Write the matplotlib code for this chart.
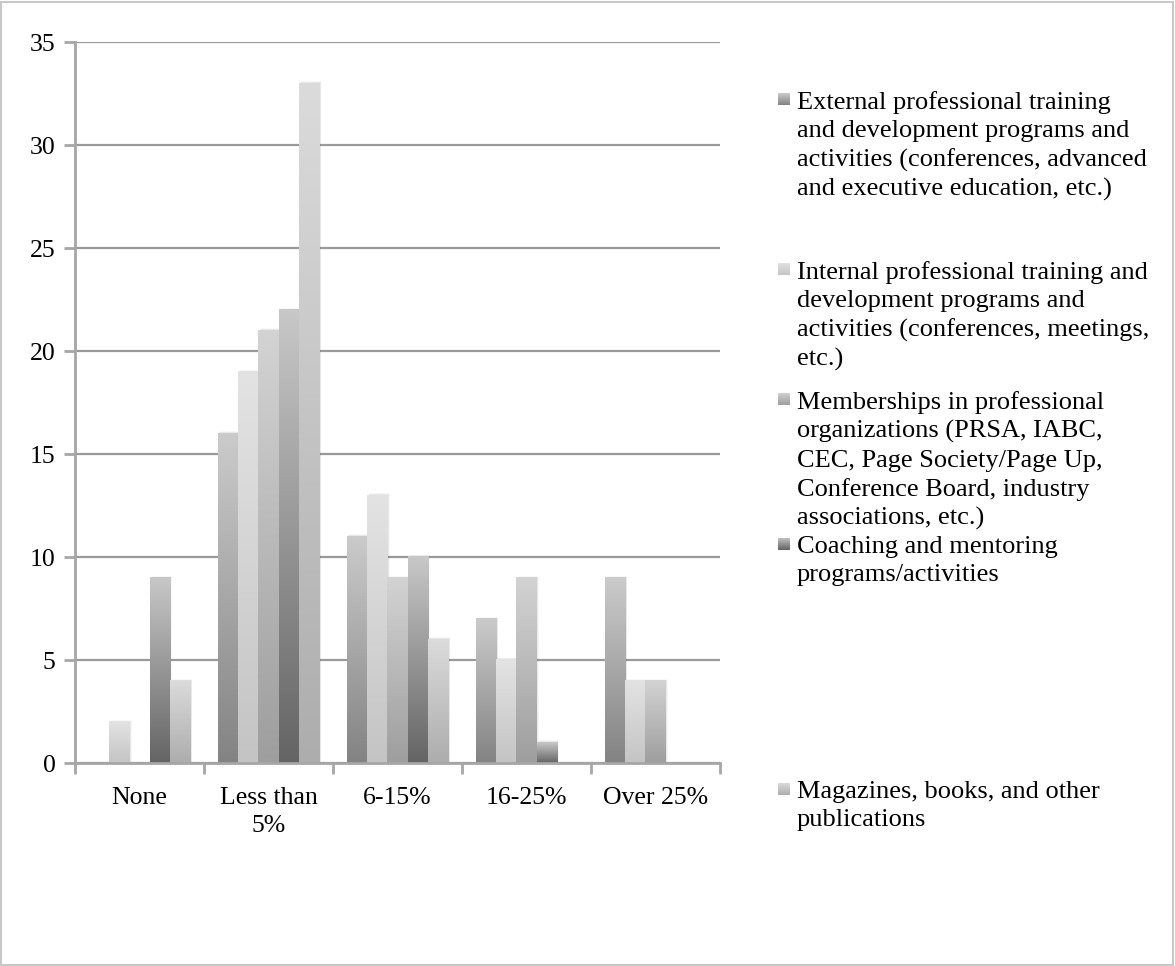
import numpy as np
import matplotlib.pyplot as plt
from matplotlib.patches import Rectangle
from matplotlib.colors import LinearSegmentedColormap

# Datos
categories = ['None', 'Less than\n5%', '6-15%', '16-25%', 'Over 25%']
series = [
    'External professional training\nand development programs and\nactivities (conferences, advanced\nand executive education, etc.)',
    'Internal professional training and\ndevelopment programs and\nactivities (conferences, meetings,\netc.)',
    'Memberships in professional\norganizations (PRSA, IABC,\nCEC, Page Society/Page Up,\nConference Board, industry\nassociations, etc.)',
    'Coaching and mentoring\nprograms/activities',
    'Magazines, books, and other\npublications',
]
external = [0, 16, 11, 7, 9]
internal = [2, 19, 13, 5, 4]
memberships = [0, 21, 9, 9, 4]
coaching = [9, 22, 10, 1, 0]
magazines = [4, 33, 6, 0, 0]
values = [external, internal, memberships, coaching, magazines]

# Degradado (arriba, abajo) por serie
grads = [
    ('#cbcbcb', '#838383'),
    ('#e3e3e3', '#c4c4c4'),
    ('#d3d3d3', '#9e9e9e'),
    ('#c8c8c8', '#646464'),
    ('#dbdbdb', '#adadad'),
]
yticks = [0, 5, 10, 15, 20, 25, 30, 35]

font = 'Liberation Serif'
fs = 18.5
fs_leg = 19

fig = plt.figure(figsize=(11.75, 9.66), dpi=100)
ax = fig.add_axes([0.0638, 0.2101, 0.549, 0.7464])

x = np.arange(len(categories))
width = 0.157

grad = np.linspace(1, 0, 256).reshape(-1, 1)
for i, vals in enumerate(values):
    cmap = LinearSegmentedColormap.from_list('g%d' % i, [grads[i][1], grads[i][0]])
    pos = x + (i - 2) * width
    bars = ax.bar(pos, vals, width, color='none', edgecolor='none', zorder=3)
    for b in bars:
        h = b.get_height()
        if h <= 0:
            continue
        x0 = b.get_x()
        # sombra
        for k, a in enumerate([0.10, 0.06, 0.03]):
            ax.add_patch(Rectangle((x0 + 0.006 * (k + 1), 0), width, h + 0.05 * k,
                                   facecolor='black', alpha=a, edgecolor='none',
                                   zorder=2.5))
        ax.imshow(grad, cmap=cmap, extent=(x0, x0 + width, 0, h),
                  aspect='auto', zorder=3 + i * 0.01, interpolation='bilinear')

ax.set_xlim(-0.5, len(categories) - 0.5)
ax.set_ylim(0, 35)
ax.set_yticks(yticks)
ax.set_yticklabels([str(t) for t in yticks], fontfamily=font, fontsize=fs)
ax.set_xticks(x)
ax.set_xticklabels(categories, fontfamily=font, fontsize=fs, linespacing=1.4)
ax.set_xticks(np.arange(len(categories) + 1) - 0.5, minor=True)
ax.tick_params(axis='x', which='major', length=0, pad=17)
ax.tick_params(axis='x', which='minor', length=8, width=2, color='#a6a6a6')
ax.tick_params(axis='y', length=8, width=2, color='#a6a6a6', pad=6)
ax.yaxis.grid(True, color='#9a9a9a', linewidth=1.6, zorder=1)
ax.set_axisbelow(True)
for s in ['top', 'right']:
    ax.spines[s].set_visible(False)
for s in ['left', 'bottom']:
    ax.spines[s].set_color('#a6a6a6')
    ax.spines[s].set_linewidth(2)
ax.spines['bottom'].set_zorder(4)

# Leyenda manual (centro de la primera linea, en pixeles)
leg_y = [103, 273, 403, 548, 793]
sq = np.linspace(0, 1, 64).reshape(-1, 1)
for i, name in enumerate(series):
    ty = 1 - (leg_y[i] - 12) / 966
    fig.text(797 / 1175, ty, name, fontfamily=font, fontsize=fs_leg, va='top',
             ha='left', linespacing=1.36)
    cmap = LinearSegmentedColormap.from_list('l%d' % i, [grads[i][0], grads[i][1]])
    sax = fig.add_axes([778 / 1175, 1 - (leg_y[i] + 2) / 966, 12 / 1175, 12 / 966])
    sax.imshow(sq, cmap=cmap, aspect='auto')
    sax.axis('off')

# Borde
fig.patches.append(Rectangle((0.001, 0.001), 0.997, 0.997, transform=fig.transFigure,
                             fill=False, edgecolor='#c8c8c8', linewidth=1.5))

fig.savefig('out.png', dpi=100)
